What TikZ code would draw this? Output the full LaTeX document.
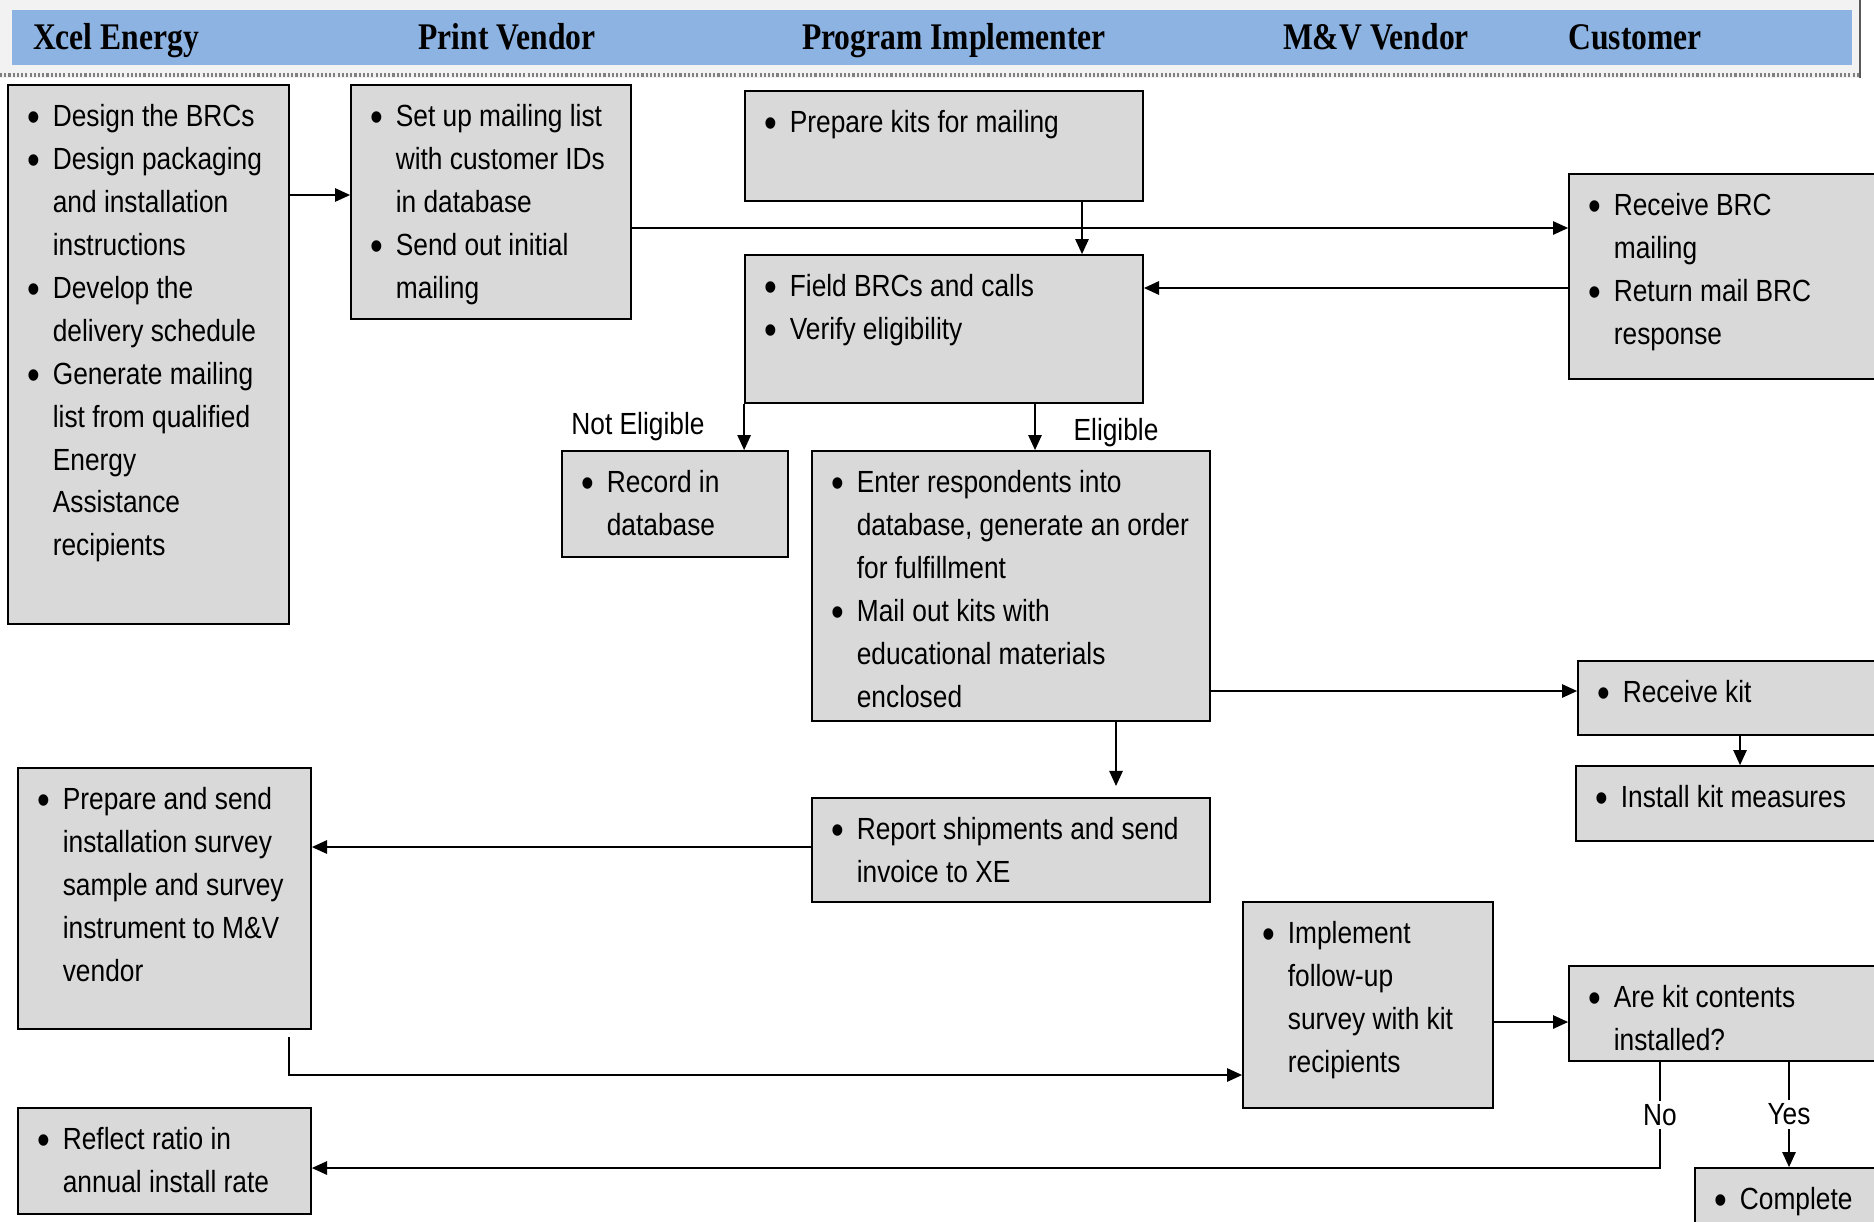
\documentclass[tikz,border=0pt]{standalone}
\usepackage{fontspec}
\setmainfont{Liberation Sans}[FakeStretch=0.86]
\newfontfamily\headfont{Liberation Serif}[FakeStretch=0.84]
\usepackage{tikz}
\usetikzlibrary{arrows.meta,fit}
\definecolor{boxgray}{HTML}{D9D9D9}
\definecolor{headblue}{HTML}{8DB3E2}
\definecolor{bandgray}{HTML}{F2F2F2}
\newcommand{\bdot}{\raisebox{-1.4pt}{\fontsize{12}{12}\selectfont\textbullet}}
\newcommand{\itemtab}[1]{\begin{tabular}{@{}l@{\hspace{3.5pt}}l@{}}#1\end{tabular}}
\begin{document}
\begin{tikzpicture}[x=0.01cm,y=-0.01cm,
	box/.style={draw,line width=0.5pt,fill=boxgray,inner sep=0pt},
	txt/.style={anchor=north west,inner sep=0pt,font=\fontsize{8.7}{12.2}\selectfont},
	lbl/.style={inner sep=1pt,font=\fontsize{8.7}{12.2}\selectfont},
	head/.style={anchor=base,font=\headfont\bfseries\fontsize{10.7}{12}\selectfont},
	arr/.style={line width=0.5pt,-{Triangle[length=4.3pt,width=3.8pt]}}]
					\useasboundingbox[fill=white] (0,0) rectangle (1874,1221);
					% Header band
					\fill[bandgray] (0,0) rectangle (1860,78);
					\fill[headblue] (12,10) rectangle (1852,65);
					\draw[gray,line width=1.2pt,dash pattern=on 0.6pt off 0.6pt] (0,75) -- (1860,75);
					\draw[gray!70!black,line width=0.6pt] (1860,0) -- (1860,78);
					\node[head] (hxe) at (116,49) {Xcel Energy};
					\node[head] (hpv) at (507,49) {Print Vendor};
					\node[head] (hpi) at (954,49) {Program Implementer};
					\node[head] (hmv) at (1376,49) {M\&V Vendor};
					\node[head] (hcu) at (1635,49) {Customer};
					% Boxes
					\node[box,fit={(8,85) (289,624)}] (xe1) {};
					\node[box,fit={(351,85) (631,319)}] (pv1) {};
					\node[box,fit={(745,91) (1143,201)}] (pi1) {};
					\node[box,fit={(745,255) (1143,403)}] (pi2) {};
					\node[box,fit={(1569,174) (1900,379)}] (cu1) {};
					\node[box,fit={(562,451) (788,557)}] (rec) {};
					\node[box,fit={(812,451) (1210,721)}] (ent) {};
					\node[box,fit={(1578,661) (1900,735)}] (rk) {};
					\node[box,fit={(1576,766) (1900,841)}] (ik) {};
					\node[box,fit={(812,798) (1210,902)}] (rep) {};
					\node[box,fit={(18,768) (311,1029)}] (xe2) {};
					\node[box,fit={(1243,902) (1493,1108)}] (imp) {};
					\node[box,fit={(1569,966) (1900,1061)}] (ak) {};
					\node[box,fit={(18,1108) (311,1214)}] (rf) {};
					\node[box,fit={(1695,1168) (1900,1240)}] (cmp) {};
					% Box texts
					\node[txt] (xe1t) at ([shift={(20,12)}]xe1.north west) {\itemtab{\bdot & Design the BRCs\\ \bdot & Design packaging\\ & and installation\\ & instructions\\ \bdot & Develop the\\ & delivery schedule\\ \bdot & Generate mailing\\ & list from qualified\\ & Energy\\ & Assistance\\ & recipients}};
					\node[txt] (pv1t) at ([shift={(20,12)}]pv1.north west) {\itemtab{\bdot & Set up mailing list\\ & with customer IDs\\ & in database\\ \bdot & Send out initial\\ & mailing}};
					\node[txt] (pi1t) at ([shift={(20,12)}]pi1.north west) {\itemtab{\bdot & Prepare kits for mailing}};
					\node[txt] (pi2t) at ([shift={(20,12)}]pi2.north west) {\itemtab{\bdot & Field BRCs and calls\\ \bdot & Verify eligibility}};
					\node[txt] (cu1t) at ([shift={(20,12)}]cu1.north west) {\itemtab{\bdot & Receive BRC\\ & mailing\\ \bdot & Return mail BRC\\ & response}};
					\node[txt] (rect) at ([shift={(20,12)}]rec.north west) {\itemtab{\bdot & Record in\\ & database}};
					\node[txt] (entt) at ([shift={(20,12)}]ent.north west) {\itemtab{\bdot & Enter respondents into\\ & database, generate an order\\ & for fulfillment\\ \bdot & Mail out kits with\\ & educational materials\\ & enclosed}};
					\node[txt] (rkt) at ([shift={(20,12)}]rk.north west) {\itemtab{\bdot & Receive kit}};
					\node[txt] (ikt) at ([shift={(20,12)}]ik.north west) {\itemtab{\bdot & Install kit measures}};
					\node[txt] (rept) at ([shift={(20,12)}]rep.north west) {\itemtab{\bdot & Report shipments and send\\ & invoice to XE}};
					\node[txt] (xe2t) at ([shift={(20,12)}]xe2.north west) {\itemtab{\bdot & Prepare and send\\ & installation survey\\ & sample and survey\\ & instrument to M\&V\\ & vendor}};
					\node[txt] (impt) at ([shift={(20,12)}]imp.north west) {\itemtab{\bdot & Implement\\ & follow-up\\ & survey with kit\\ & recipients}};
					\node[txt] (akt) at ([shift={(20,12)}]ak.north west) {\itemtab{\bdot & Are kit contents\\ & installed?}};
					\node[txt] (rft) at ([shift={(20,12)}]rf.north west) {\itemtab{\bdot & Reflect ratio in\\ & annual install rate}};
					\node[txt] (cmpt) at ([shift={(20,12)}]cmp.north west) {\itemtab{\bdot & Complete}};
					% Connectors
					\coordinate (repin) at (1116,786);
					\coordinate (xe2out) at (289,1037);
					\draw[arr] (xe1.east |- 0,195) -- (pv1.west |- 0,195);
					\draw[arr] (pv1.east |- 0,228) -- (cu1.west |- 0,228);
					\draw[arr] (pi1.south -| 1082,0) -- (pi2.north -| 1082,0);
					\draw[arr] (cu1.west |- 0,288) -- (pi2.east |- 0,288);
					\draw[arr] (pi2.south west) -- (rec.north -| pi2.south west);
					\draw[arr] (pi2.south -| 1035,0) -- (ent.north -| 1035,0);
					\node[lbl] (noteli) at (638,427) {Not Eligible};
					\node[lbl] (eli) at (1116,433) {Eligible};
					\draw[arr] (ent.east |- 0,691) -- (rk.west |- 0,691);
					\draw[arr] (ent.south -| repin) -- (repin);
					\draw[arr] (rk.south -| 1740,0) -- (ik.north -| 1740,0);
					\draw[arr] (rep.west |- 0,847) -- (xe2.east |- 0,847);
					\draw[arr] (xe2out) |- (imp.west |- 0,1075);
					\draw[arr] (imp.east |- 0,1022) -- (ak.west |- 0,1022);
					\draw[arr] (ak.south -| 1660,0) |- (rf.east |- 0,1168) node[lbl,pos=0.25,fill=white] (nolbl) {No};
					\draw[arr] (ak.south -| 1789,0) -- (cmp.north -| 1789,0) node[lbl,midway,fill=white] (yeslbl) {Yes};
				\end{tikzpicture}
\end{document}
